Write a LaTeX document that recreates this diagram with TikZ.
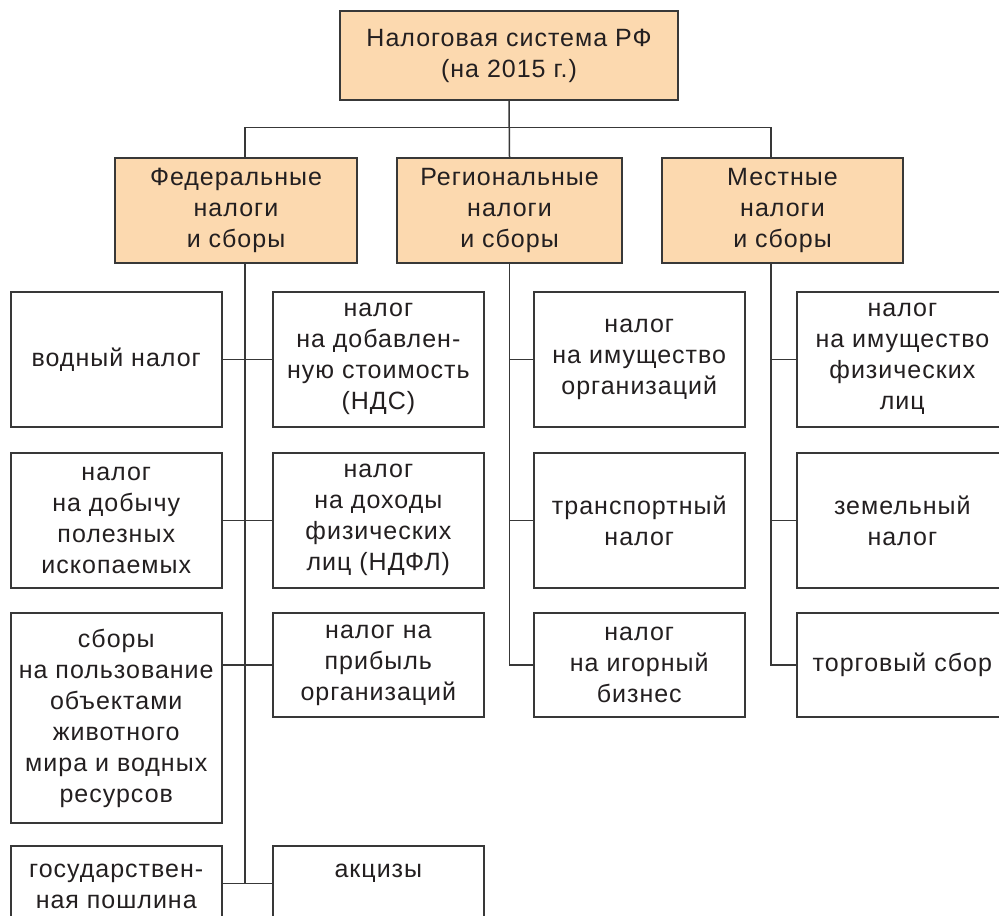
\documentclass[tikz,border=0pt]{standalone}
\usepackage{fontspec}
\setmainfont[LetterSpace=4]{Liberation Sans}
\usetikzlibrary{positioning}
\definecolor{boxpeach}{HTML}{FCD9AF}
\definecolor{boxline}{HTML}{383838}
\definecolor{boxtext}{HTML}{231F20}

\begin{document}
\begin{tikzpicture}[x=0.5pt, y=-0.5pt, line width=0.75pt, color=boxline,
    every node/.style = {font=\fontsize{12.5pt}{15.5pt}\selectfont, text=boxtext, align=center},
    head/.style = {draw=boxline, fill=boxpeach, minimum height=52.5pt, inner xsep=0pt},
    tax/.style = {draw=boxline, fill=white, minimum width=105.5pt, minimum height=67.5pt, inner xsep=0pt},
    cut/.style = {tax, minimum height=0pt, inner ysep=3pt, text height=28pt, text depth=25pt}]
    \useasboundingbox (0,0) rectangle (999,915);
    \clip (0,0) rectangle (999,915);

    \node[head, minimum width=169pt, minimum height=44.5pt] (root) at (509,55.5) {Налоговая система РФ\\(на 2015 г.)};
    \node[head, minimum width=121pt] (fed) at (236,210.5) {Федеральные\\налоги\\и сборы};
    \node[head, minimum width=112.5pt] (reg) at (509.5,210.5) {Региональные\\налоги\\и сборы};
    \node[head, minimum width=120.5pt] (loc) at (782.5,210.5) {Местные\\налоги\\и сборы};

    % federal
    \node[tax, anchor=north west] (a1) at (10,291) {водный налог};
    \node[tax, below=12.3pt of a1] (a2) {налог\\на добычу\\полезных\\ископаемых};
    \node[tax, below=11.8pt of a2, minimum height=105pt] (a3) {сборы\\на пользование\\объектами\\животного\\мира и водных\\ресурсов};
    \node[cut, below=10.8pt of a3] (a4) {государствен-\\ная пошлина};
    \node[tax, right=24.8pt of a1] (b1) {налог\\на добавлен-\\ную стоимость\\(НДС)};
    \node[tax, below=12.3pt of b1] (b2) {налог\\на доходы\\физических\\лиц (НДФЛ)};
    \node[tax, below=11.8pt of b2, minimum height=52pt] (b3) {налог на\\прибыль\\организаций};
    \node[cut, text height=12.5pt, text depth=40.5pt, right=24.8pt of a4] (b4) {акцизы};

    % regional
    \node[tax, anchor=north west] (r1) at (533,291) {налог\\на имущество\\организаций};
    \node[tax, below=12.3pt of r1] (r2) {транспортный\\налог};
    \node[tax, below=11.8pt of r2, minimum height=52pt] (r3) {налог\\на игорный\\бизнес};

    % local
    \node[tax, right=25.3pt of r1] (l1) {налог\\на имущество\\физических\\лиц};
    \node[tax, below=12.3pt of l1] (l2) {земельный\\налог};
    \node[tax, below=11.8pt of l2, minimum height=52pt] (l3) {торговый сбор};

    \coordinate (fedtop) at ([xshift=4.5pt]fed.north);
    \coordinate (fedbus) at ([xshift=4.5pt]fed.south);
    \coordinate (loctop) at ([xshift=-5.75pt]loc.north);
    \coordinate (locbus) at ([xshift=-5.75pt]loc.south);
    \coordinate (s4) at ([yshift=-19pt]a4.north east);

    \draw (root.south) -- (reg.north);
    \draw (fedtop) -- ++(0,15pt) -| (loctop);

    \draw (fedbus) -- (fedbus |- s4);
    \draw (a1) -- (b1);
    \draw (a2) -- (b2);
    \draw (a3.east |- b3.west) -- (b3.west);
    \draw (s4) -- (s4 -| b4.west);

    \draw (reg.south) |- (r3.west);
    \draw (reg.south |- r1.west) -- (r1.west);
    \draw (reg.south |- r2.west) -- (r2.west);

    \draw (locbus) |- (l3.west);
    \draw (locbus |- l1.west) -- (l1.west);
    \draw (locbus |- l2.west) -- (l2.west);
\end{tikzpicture}
\end{document}
